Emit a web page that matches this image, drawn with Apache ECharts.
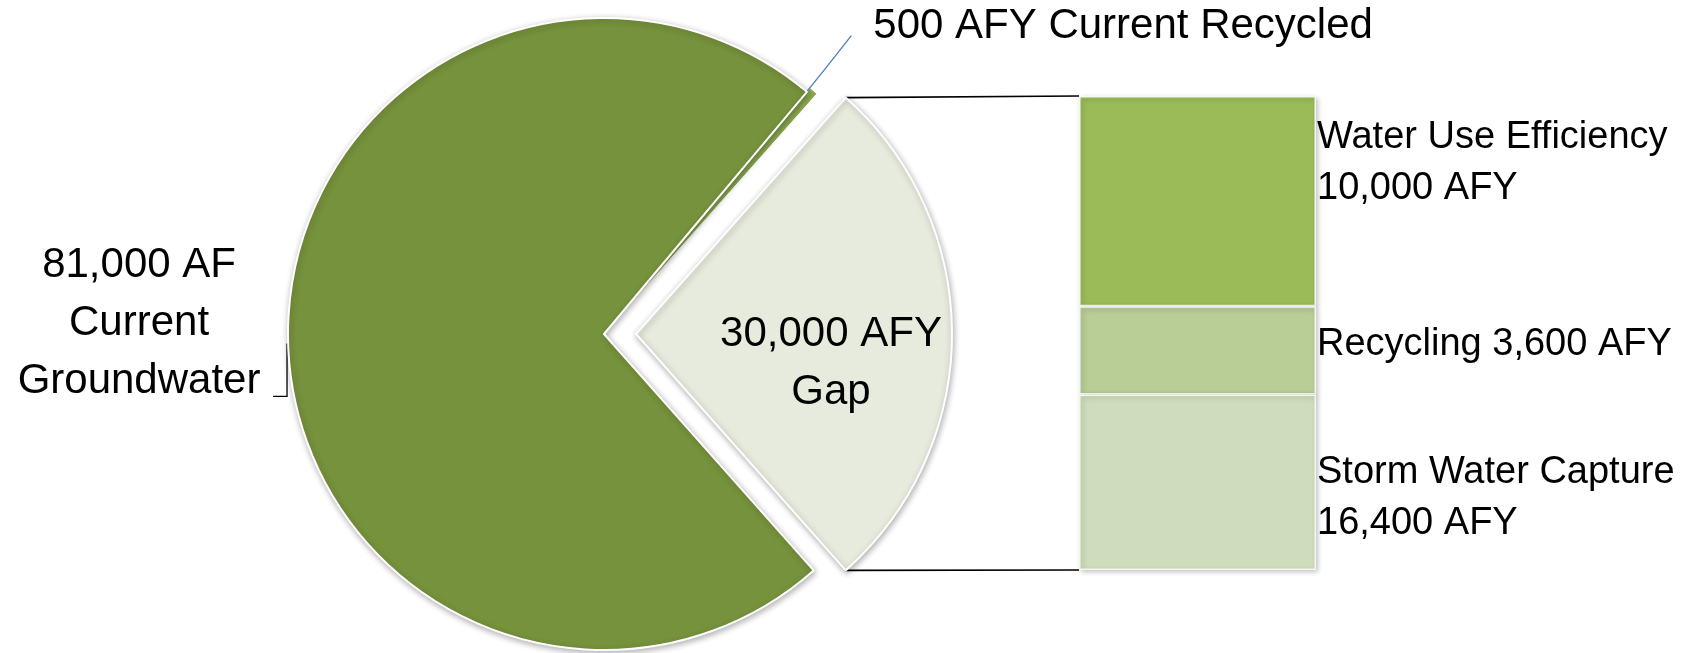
<!DOCTYPE html>
<html>
<head>
<meta charset="utf-8">
<script src="https://cdn.jsdelivr.net/npm/echarts@6/dist/echarts.min.js"></script>
<style>
  html, body { margin: 0; padding: 0; background: #fff; }
  #main { width: 1706px; height: 653px; }
</style>
</head>
<body>
<div id="main"></div>
<script>
// pie: current supply and the gap
const pieNames = ['Current Recycled', 'Gap', 'Current Groundwater'];
const pieValues = [500, 30000, 81000];
const pieLabels = ['500 AFY Current Recycled', '30,000 AFY\nGap', '81,000 AF\nCurrent\nGroundwater'];
const pieColors = ['#8CA850', '#E6EBDD', '#76923C'];

// bar: how the gap gets closed (segment sizes as drawn in the picture)
const barNames = ['Water Use Efficiency', 'Recycling', 'Storm Water Capture'];
const barLabels = ['Water Use Efficiency\n10,000 AFY', 'Recycling 3,600 AFY', 'Storm Water Capture\n16,400 AFY'];
const barValues = [13300, 5600, 11100];
const barColors = ['#9BBB59', '#B9CD96', '#D0DDBC'];

const pieCenter = [604, 334];
const pieRadius = 316;
const explode = 32;
const sliverExplode = 5;
const barBox = { left: 1079, top: 96, width: 237, height: 474 };
const barLabelShift = [-38, -6, 16];
const font = 'Liberation Sans';

const total = pieValues.reduce((a, b) => a + b, 0);
const barTotal = barValues.reduce((a, b) => a + b, 0);
// gap slice centred on 3 o'clock, recycled sliver just above it
const startAngle = pieValues[0] / total * 360 + pieValues[1] / total * 180;

const chart = echarts.init(document.getElementById('main'), null, { renderer: 'canvas' });

const sliceStyle = {
  borderColor: '#fff',
  borderWidth: 2,
  shadowBlur: 6,
  shadowColor: 'rgba(0,0,0,0.3)',
  shadowOffsetX: 1,
  shadowOffsetY: 2
};
const hidden = { color: 'transparent', borderWidth: 0, shadowBlur: 0, shadowColor: 'transparent' };

// main pie (recycled sliver is drawn by the second series)
const pieData = pieNames.map((name, i) => {
  const item = {
    name: name,
    value: pieValues[i],
    itemStyle: i === 0 ? hidden : { color: pieColors[i] },
    select: { itemStyle: { color: pieColors[i], borderColor: '#fff', borderWidth: 2 } },
    label: { formatter: pieLabels[i] }
  };
  if (i === 1) {
    item.selected = true;
    item.label.position = 'inside';
  } else {
    item.label.position = 'outside';
    item.labelLine = {
      show: true,
      lineStyle: { color: i === 0 ? '#4A7EBB' : '#000', width: 1.3 }
    };
  }
  return item;
});

// same values, only the recycled sliver visible, pulled out a little
const sliverData = pieNames.map((name, i) => ({
  name: name,
  value: pieValues[i],
  selected: i === 0,
  itemStyle: i === 0 ? { color: pieColors[0], borderColor: '#fff', borderWidth: 1 } : hidden,
  select: { itemStyle: i === 0 ? { color: pieColors[0], borderColor: '#fff', borderWidth: 1 } : hidden }
}));

// black lines from the exploded slice to the bar
const half = pieValues[1] / total * Math.PI;
const cornerX = pieCenter[0] + explode + pieRadius * Math.cos(half);
const cornerTop = pieCenter[1] - pieRadius * Math.sin(half);
const cornerBottom = pieCenter[1] + pieRadius * Math.sin(half);

const option = {
  animation: false,
  backgroundColor: '#fff',
  textStyle: { fontFamily: font },
  grid: { left: barBox.left, top: barBox.top, width: barBox.width, height: barBox.height },
  xAxis: { type: 'category', data: ['gap'], show: false },
  yAxis: { type: 'value', min: 0, max: barTotal, inverse: true, show: false },
  graphic: [
    { type: 'line', shape: { x1: cornerX, y1: cornerTop, x2: barBox.left, y2: barBox.top },
      style: { stroke: '#000', lineWidth: 1.6 }, z: 0 },
    { type: 'line', shape: { x1: cornerX, y1: cornerBottom, x2: barBox.left, y2: barBox.top + barBox.height },
      style: { stroke: '#000', lineWidth: 1.6 }, z: 0 }
  ],
  series: [
    {
      type: 'pie',
      center: pieCenter,
      radius: pieRadius,
      startAngle: startAngle,
      clockwise: true,
      selectedMode: 'single',
      selectedOffset: explode,
      avoidLabelOverlap: false,
      emphasis: { disabled: true },
      itemStyle: sliceStyle,
      label: {
        color: '#000',
        fontFamily: font,
        fontSize: 42,
        lineHeight: 58,
        align: 'center'
      },
      labelLine: { length: 10, length2: 10 },
      labelLayout: function (p) {
        if (p.dataIndex === 1) return { dx: 34, dy: 29 };
        const pts = p.labelLinePoints;
        if (!pts) return {};
        const e = pts[0];
        if (p.dataIndex === 0) {
          return {
            x: e[0] + 63, y: e[1] - 68, align: 'left', verticalAlign: 'middle',
            labelLinePoints: [[e[0] - 10, e[1] + 5], [e[0] + 15, e[1] - 26], [e[0] + 41, e[1] - 59]]
          };
        }
        return {
          x: e[0] - 149, y: e[1] - 15, align: 'center', verticalAlign: 'middle',
          labelLinePoints: [[e[0] - 1, e[1] + 5], [e[0] - 1, e[1] + 58], [e[0] - 15, e[1] + 58]]
        };
      },
      data: pieData
    },
    {
      type: 'pie',
      center: pieCenter,
      radius: pieRadius,
      startAngle: startAngle,
      clockwise: true,
      selectedMode: 'single',
      selectedOffset: sliverExplode,
      silent: true,
      z: 1,
      label: { show: false },
      labelLine: { show: false },
      emphasis: { disabled: true },
      data: sliverData
    }
  ].concat(barNames.map((name, i) => ({
    type: 'bar',
    name: name,
    stack: 'gap',
    barWidth: '100%',
    data: [barValues[i]],
    itemStyle: {
      color: barColors[i],
      borderColor: '#f4f6f0',
      borderWidth: 1.5,
      shadowBlur: 5,
      shadowColor: 'rgba(0,0,0,0.25)',
      shadowOffsetX: 2,
      shadowOffsetY: 2
    },
    emphasis: { disabled: true },
    label: {
      show: true,
      position: 'right',
      distance: 1,
      offset: [0, barLabelShift[i]],
      formatter: barLabels[i],
      color: '#000',
      fontFamily: font,
      fontSize: 38,
      lineHeight: 51,
      align: 'left'
    }
  })))
};

chart.setOption(option);
</script>
</body>
</html>
